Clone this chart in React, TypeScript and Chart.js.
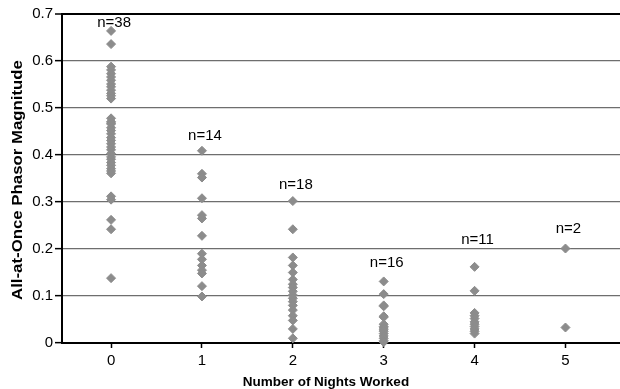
import { useEffect, useRef } from 'react';
import { Chart, registerables } from 'chart.js';

Chart.register(...registerables);

const categories = [0, 1, 2, 3, 4, 5];

const nights0 = [
  0.664, 0.636,
  0.588, 0.581, 0.573, 0.566, 0.559, 0.551, 0.545, 0.538, 0.531, 0.526, 0.52,
  0.478, 0.471, 0.466, 0.458, 0.452, 0.445, 0.437, 0.431, 0.424, 0.417,
  0.411, 0.403, 0.396, 0.391, 0.384, 0.378, 0.371, 0.366, 0.361, 0.468,
  0.312, 0.305, 0.262, 0.242, 0.138,
];
const nights1 = [0.409, 0.36, 0.352, 0.308, 0.272, 0.265, 0.228, 0.19, 0.178, 0.165, 0.155, 0.148, 0.121, 0.099];
const nights2 = [0.302, 0.242, 0.182, 0.165, 0.15, 0.135, 0.125, 0.118, 0.11, 0.102, 0.095, 0.088, 0.08, 0.07, 0.058, 0.048, 0.03, 0.01];
const nights3 = [0.131, 0.104, 0.08, 0.078, 0.057, 0.055, 0.04, 0.035, 0.032, 0.028, 0.025, 0.02, 0.015, 0.01, 0.005, 0.002];
const nights4 = [0.162, 0.111, 0.064, 0.058, 0.052, 0.045, 0.04, 0.035, 0.03, 0.025, 0.02];
const nights5 = [0.201, 0.033];

const seriesValues = [nights0, nights1, nights2, nights3, nights4, nights5];

const countLabels = ['n=38', 'n=14', 'n=18', 'n=16', 'n=11', 'n=2'];
const countLabelY = [0.682, 0.44, 0.337, 0.171, 0.219, 0.243];

const yTicks = [0, 0.1, 0.2, 0.3, 0.4, 0.5, 0.6, 0.7];
const xTicks = categories;

const xTitle = 'Number of Nights Worked';
const yTitle = 'All-at-Once Phasor Magnitude';

const FONT = '"Liberation Sans", Arial, sans-serif';

export default function App() {
  const ref = useRef<HTMLCanvasElement>(null);

  useEffect(() => {
    document.body.style.margin = '0';
    const canvas = ref.current;
    if (!canvas) return;

    const points = categories.flatMap((c, i) => seriesValues[i].map((v) => ({ x: c, y: v })));

    const labelPlugin = {
      id: 'countLabels',
      afterDatasetsDraw(chart: any) {
        const { ctx, scales, chartArea } = chart;
        const x = scales.x;
        const y = scales.y;
        ctx.save();
        ctx.fillStyle = '#000';
        ctx.textAlign = 'center';
        ctx.textBaseline = 'middle';
        ctx.font = `15px ${FONT}`;
        countLabels.forEach((t, i) => {
          ctx.fillText(t, x.getPixelForValue(categories[i]) + 3, y.getPixelForValue(countLabelY[i]));
        });
        ctx.font = `bold 13.5px ${FONT}`;
        ctx.fillText(xTitle, (chartArea.left + chartArea.right) / 2 - 15, chart.height - 7);
        ctx.font = `bold 14px ${FONT}`;
        ctx.translate(18.5, (chartArea.top + chartArea.bottom) / 2 + 1.5);
        ctx.rotate(-Math.PI / 2);
        ctx.scale(1.2, 1);
        ctx.fillText(yTitle, 0, 0);
        ctx.restore();
      },
    };

    const chart = new Chart(canvas, {
      type: 'scatter',
      data: {
        datasets: [
          {
            data: points,
            pointStyle: 'rectRot',
            pointRadius: 4.5,
            pointHoverRadius: 4.5,
            borderWidth: 1,
            backgroundColor: '#8c8c8c',
            borderColor: '#8c8c8c',
            clip: false as any,
          },
        ],
      },
      options: {
        animation: false,
        responsive: false,
        devicePixelRatio: 1,
        layout: { autoPadding: false, padding: { top: 14, right: 0, left: 0, bottom: 0 } },
        plugins: {
          legend: { display: false },
          tooltip: { enabled: false },
        },
        scales: {
          x: {
            type: 'linear',
            min: -0.54,
            max: 5.6,
            afterBuildTicks: (s: any) => {
              s.ticks = xTicks.map((v) => ({ value: v }));
            },
            afterFit: (s: any) => {
              s.height = 46;
              s.paddingLeft = 0;
              s.paddingRight = 0;
            },
            grid: {
              drawOnChartArea: false,
              drawTicks: true,
              tickLength: 5,
              tickColor: '#000',
              tickWidth: 1.5,
            },
            border: { color: '#000', width: 2 },
            ticks: {
              color: '#000',
              font: { family: FONT, size: 15 },
              padding: 4,
              maxRotation: 0,
              autoSkip: false,
            },
          },
          y: {
            min: 0,
            max: 0.7,
            afterBuildTicks: (s: any) => {
              s.ticks = yTicks.map((v) => ({ value: v }));
            },
            afterFit: (s: any) => {
              s.width = 62;
              s.paddingTop = 0;
              s.paddingBottom = 0;
            },
            grid: {
              color: (c: any) => (c.tick && c.tick.value >= 0.69 ? '#000' : '#6e6e6e'),
              lineWidth: (c: any) => (c.tick && c.tick.value >= 0.69 ? 2 : 1.3),
              tickLength: 7,
              tickColor: '#000',
              tickWidth: 1.5,
            },
            border: { color: '#000', width: 2 },
            ticks: {
              color: '#000',
              font: { family: FONT, size: 15 },
              padding: 2,
              callback: (v: any) => String(Number(Number(v).toFixed(1))),
            },
          },
        },
      },
      plugins: [labelPlugin],
    });

    return () => chart.destroy();
  }, []);

  return <canvas ref={ref} width={620} height={389} style={{ display: 'block' }} />;
}
